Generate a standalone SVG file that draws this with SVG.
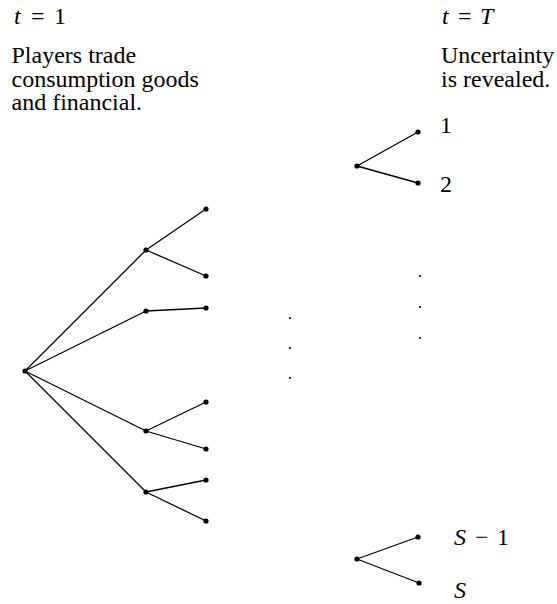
<svg xmlns="http://www.w3.org/2000/svg" width="557" height="604" viewBox="0 0 557 604">
<style>
  text { font-family: "Liberation Serif", "DejaVu Serif", serif; font-size: 24px; fill: #000; }
  .it { font-style: italic; }
  .edge { stroke: #000; stroke-width: 1.3; fill: none; }
  .node { fill: #000; }
  .dot { fill: #000; }
</style>
<rect width="557" height="604" fill="#fff"/>
<g id="labels">
  <text x="14" y="23.5"><tspan class="it">t</tspan> <tspan x="31">=</tspan> <tspan x="54">1</tspan></text>
  <text x="11.5" y="63">Players trade</text>
  <text x="11.5" y="86.7">consumption goods</text>
  <text x="11.5" y="110.4">and financial.</text>
  <text x="442" y="24"><tspan class="it">t</tspan> <tspan x="458">=</tspan> <tspan x="480" class="it">T</tspan></text>
  <text x="441" y="63">Uncertainty</text>
  <text x="441" y="86.7">is revealed.</text>
  <text x="440" y="132.5">1</text>
  <text x="440" y="191.7">2</text>
  <text x="454" y="545"><tspan class="it">S</tspan> <tspan x="475">−</tspan> <tspan x="497">1</tspan></text>
  <text x="454" y="598.3" class="it">S</text>
</g>
<g id="connectors">
  <line class="edge" x1="25" y1="371" x2="146" y2="250"/>
  <line class="edge" x1="25" y1="371" x2="146" y2="311"/>
  <line class="edge" x1="25" y1="371" x2="146" y2="431"/>
  <line class="edge" x1="25" y1="371" x2="146" y2="492"/>
  <line class="edge" x1="146" y1="250" x2="206" y2="209"/>
  <line class="edge" x1="146" y1="250" x2="206" y2="276"/>
  <line class="edge" x1="146" y1="311" x2="206" y2="308"/>
  <line class="edge" x1="146" y1="431" x2="206" y2="402"/>
  <line class="edge" x1="146" y1="431" x2="206" y2="449"/>
  <line class="edge" x1="146" y1="492" x2="206" y2="480"/>
  <line class="edge" x1="146" y1="492" x2="206" y2="521"/>
  <line class="edge" x1="357" y1="166" x2="418" y2="132"/>
  <line class="edge" x1="357" y1="166" x2="418" y2="183"/>
  <line class="edge" x1="357" y1="559" x2="418" y2="537"/>
  <line class="edge" x1="357" y1="559" x2="419" y2="583"/>
</g>
<g id="root"><circle class="node" cx="25" cy="371" r="2.6"/></g>
<g id="n1"><circle class="node" cx="146" cy="250" r="2.6"/></g>
<g id="n2"><circle class="node" cx="146" cy="311" r="2.6"/></g>
<g id="n3"><circle class="node" cx="146" cy="431" r="2.6"/></g>
<g id="n4"><circle class="node" cx="146" cy="492" r="2.6"/></g>
<g id="l1"><circle class="node" cx="206" cy="209" r="2.6"/></g>
<g id="l2"><circle class="node" cx="206" cy="276" r="2.6"/></g>
<g id="l3"><circle class="node" cx="206" cy="308" r="2.6"/></g>
<g id="l4"><circle class="node" cx="206" cy="402" r="2.6"/></g>
<g id="l5"><circle class="node" cx="206" cy="449" r="2.6"/></g>
<g id="l6"><circle class="node" cx="206" cy="480" r="2.6"/></g>
<g id="l7"><circle class="node" cx="206" cy="521" r="2.6"/></g>
<g id="s-top"><circle class="node" cx="357" cy="166" r="2.6"/></g>
<g id="s1"><circle class="node" cx="418" cy="132" r="2.6"/></g>
<g id="s2"><circle class="node" cx="418" cy="183" r="2.6"/></g>
<g id="s-bot"><circle class="node" cx="357" cy="559" r="2.6"/></g>
<g id="sS1"><circle class="node" cx="418" cy="537" r="2.6"/></g>
<g id="sS"><circle class="node" cx="419" cy="583" r="2.6"/></g>
<g id="ellipses">
  <circle class="dot" cx="290" cy="318" r="1.1"/>
  <circle class="dot" cx="290" cy="348" r="1.1"/>
  <circle class="dot" cx="290" cy="378" r="1.1"/>
  <circle class="dot" cx="420" cy="276" r="1.1"/>
  <circle class="dot" cx="420" cy="307" r="1.1"/>
  <circle class="dot" cx="420" cy="338" r="1.1"/>
</g>
</svg>
